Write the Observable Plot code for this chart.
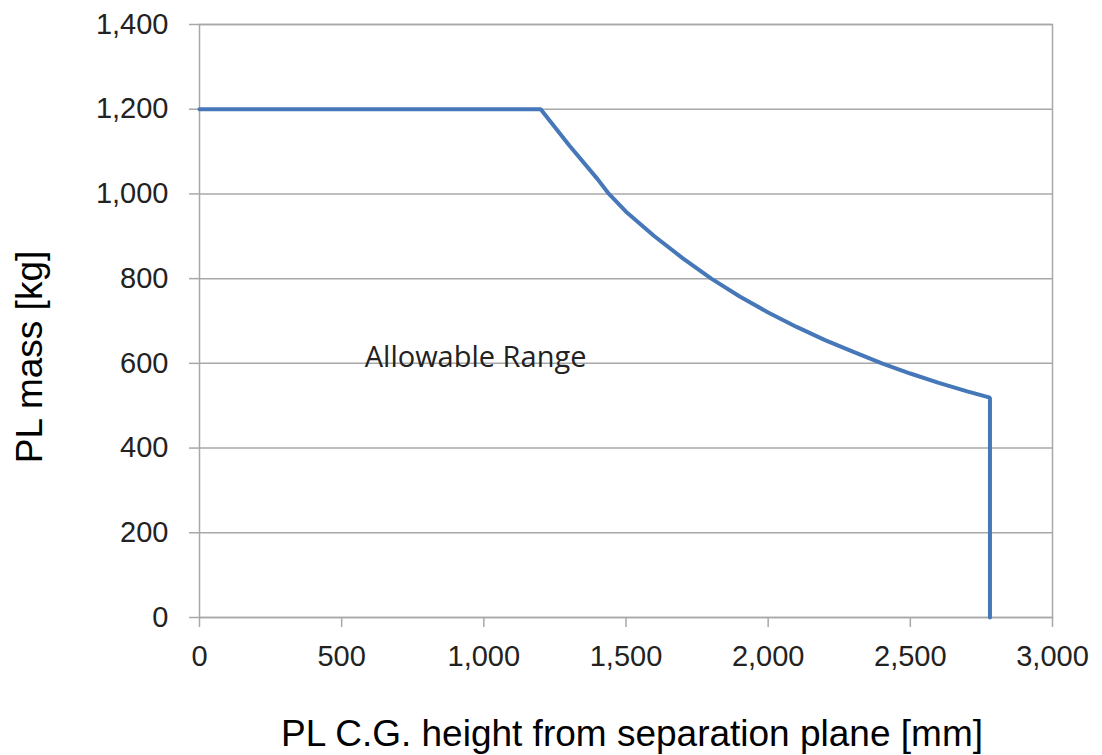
<!DOCTYPE html>
<html>
<head>
<meta charset="utf-8">
<script src="https://cdn.jsdelivr.net/npm/d3@7"></script>
<script src="https://cdn.jsdelivr.net/npm/@observablehq/plot@0.6"></script>
<style>
  html, body { margin: 0; padding: 0; background: #fff; }
  svg { display: block; }
</style>
</head>
<body>
<div id="chart"></div>
<script>
// C.G. height [mm] and allowable PL mass [kg]
const heights = [0, 1200, 1300, 1400, 1440, 1500, 1600, 1700, 1800, 1900, 2000, 2100, 2200, 2300, 2400, 2500, 2600, 2700, 2780, 2780];
const masses  = [1200, 1200, 1115, 1035, 1000, 958, 900, 848, 800, 758, 720, 686, 655, 627, 600, 576, 554, 534, 519, 0];
const xTicks = [0, 500, 1000, 1500, 2000, 2500, 3000];
const yTicks = [0, 200, 400, 600, 800, 1000, 1200, 1400];
const regionLabel = ["Allowable Range"];
const regionLabelPos = {x: 971, y: 592};
const xTitle = ["PL C.G. height from separation plane [mm]"];
const yTitle = ["PL mass [kg]"];

const data = heights.map((h, i) => ({h, m: masses[i]}));
const gridColor = "#a8a8a8";
const fmt = d3.format(",");

const chart = Plot.plot({
  width: 1102,
  height: 755,
  marginLeft: 199,
  marginRight: 50,
  marginTop: 24,
  marginBottom: 138,
  style: {fontFamily: "'Liberation Sans', Arial, sans-serif", background: "#fff"},
  x: {domain: [0, 3000]},
  y: {domain: [0, 1400]},
  marks: [
    Plot.gridY(yTicks, {stroke: gridColor, strokeOpacity: 1, strokeWidth: 1.5}),
    Plot.frame({stroke: gridColor, strokeWidth: 1.5}),
    Plot.axisX(xTicks, {tickSize: 10, tickPadding: 18, tickFormat: fmt, fontSize: 29, stroke: gridColor, strokeWidth: 1.5, fill: "#222", label: null}),
    Plot.axisY(yTicks, {tickSize: 10, tickPadding: 21, tickFormat: fmt, fontSize: 29, stroke: gridColor, strokeWidth: 1.5, fill: "#222", label: null}),
    Plot.text(regionLabel, {x: () => regionLabelPos.x, y: () => regionLabelPos.y, lineAnchor: "bottom", fontFamily: "'Open Sans', sans-serif", fontSize: 29, fill: "#222"}),
    Plot.line(data, {x: "h", y: "m", stroke: "#4677b8", strokeWidth: 4, strokeLinejoin: "miter"}),
    Plot.text(xTitle, {frameAnchor: "bottom", textAnchor: "middle", dx: 6, dy: 128, lineAnchor: "bottom", fontSize: 37, fill: "#000"}),
    Plot.text(yTitle, {frameAnchor: "left", textAnchor: "middle", rotate: -90, dx: -158, dy: 36, lineAnchor: "bottom", fontSize: 37, fill: "#000"})
  ]
});
document.getElementById("chart").appendChild(chart);
</script>
</body>
</html>
